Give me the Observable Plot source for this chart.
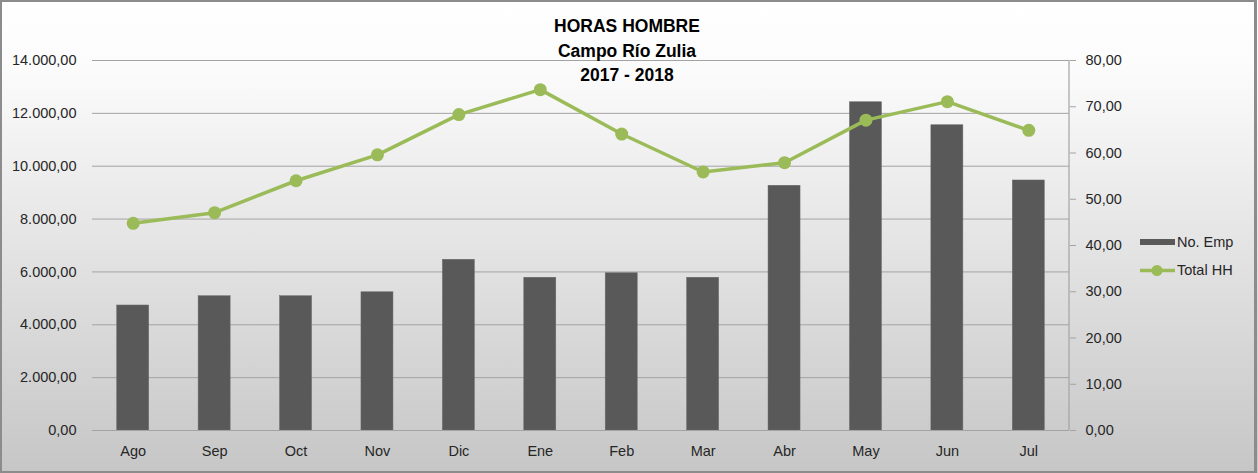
<!DOCTYPE html>
<html>
<head>
<meta charset="utf-8">
<script src="https://cdn.jsdelivr.net/npm/d3@7"></script>
<script src="https://cdn.jsdelivr.net/npm/@observablehq/plot@0.6"></script>
<style>
  html, body { margin: 0; padding: 0; background: #fff; }
  #wrap { position: relative; width: 1258px; height: 473px; overflow: hidden; }
  #frame { position: absolute; left: 0; top: 0; width: 1252px; height: 469px; border: 2px solid #8c8c8c; border-right-width: 3px; pointer-events: none; }
  #title { position: absolute; top: 14px; left: 427px; width: 400px; text-align: center;
    font-family: "Liberation Sans", Arial, sans-serif; font-weight: bold; font-size: 17.5px; line-height: 24.5px; color: #000; }
</style>
</head>
<body>
<div id="wrap">
  <div id="chart"></div>
  <div id="title">HORAS HOMBRE<br>Campo Río Zulia<br>2017 - 2018</div>
  <div id="frame"></div>
</div>
<script>
const months = ["Ago","Sep","Oct","Nov","Dic","Ene","Feb","Mar","Abr","May","Jun","Jul"];
const noEmp = [4730, 5080, 5080, 5230, 6460, 5780, 5950, 5780, 9260, 12420, 11550, 9460];
const totalHH = [44.8, 47.1, 54.0, 59.6, 68.3, 73.7, 64.1, 55.9, 57.9, 67.1, 71.1, 64.9];
const leftTicks = [0, 2000, 4000, 6000, 8000, 10000, 12000, 14000];
const rightTicks = [0, 10, 20, 30, 40, 50, 60, 70, 80];
const seriesNames = ["No. Emp", "Total HH"];

const leftMax = 14000, rightMax = 80;
const k = leftMax / rightMax;

const data = months.map((m, i) => ({month: m, emp: noEmp[i], hh: totalHH[i]}));
const loc = d3.formatLocale({decimal: ",", thousands: ".", grouping: [3], currency: ["", ""]});
const fmt = loc.format(",.2f");

const barColor = "#595959";
const lineColor = "#9bbb59";
const gridColor = "#a3a3a3";

const plot = Plot.plot({
  width: 1258,
  height: 473,
  marginLeft: 92,
  marginRight: 189,
  marginTop: 60,
  marginBottom: 43,
  style: {
    fontFamily: "'Liberation Sans', Arial, sans-serif",
    fontSize: "14.5px",
    color: "#262626",
    background: "linear-gradient(to bottom, #ffffff 0%, #fbfbfb 15%, #e2e2e2 55%, #c6c6c6 100%)",
    overflow: "visible"
  },
  x: {domain: months, paddingInner: 0.607, paddingOuter: 0.3035, round: false, label: null},
  y: {domain: [0, leftMax], label: null},
  marks: [
    Plot.gridY(leftTicks, {stroke: gridColor, strokeOpacity: 1, strokeWidth: 1}),
    Plot.barY(data, {x: "month", y: "emp", fill: barColor, stroke: "#6a6a6a", strokeWidth: 0.5}),
    Plot.ruleY([0], {stroke: gridColor, strokeWidth: 1.2}),
    Plot.axisY(leftTicks, {anchor: "left", tickSize: 0, tickPadding: 16, tickFormat: fmt, label: null, fill: "#262626"}),
    Plot.axisY(rightTicks.map(v => v * k), {anchor: "right", tickSize: 6, tickPadding: 10, tickFormat: d => fmt(d / k), label: null, stroke: gridColor, fill: "#262626"}),
    Plot.axisX({tickSize: 0, tickPadding: 15, label: null, fill: "#262626"}),
    Plot.line(data, {x: "month", y: d => d.hh * k, stroke: lineColor, strokeWidth: 3.5}),
    Plot.dot(data, {x: "month", y: d => d.hh * k, r: 6.5, fill: lineColor, stroke: "none"})
  ]
});
document.getElementById("chart").appendChild(plot);

// right axis line and legend
const svg = d3.select(plot);
const xs = plot.scale("x"), ys = plot.scale("y");
const rightX = xs.range[1];
svg.append("line")
  .attr("x1", rightX).attr("x2", rightX)
  .attr("y1", ys.apply(leftMax)).attr("y2", ys.apply(0))
  .attr("stroke", gridColor).attr("stroke-width", 1.2);

const lg = svg.append("g").attr("font-family", "'Liberation Sans', Arial, sans-serif").attr("font-size", "14.5px").attr("fill", "#262626").attr("text-anchor", "start");
lg.append("rect").attr("x", 1140).attr("y", 239).attr("width", 35).attr("height", 6).attr("fill", barColor);
lg.append("text").attr("x", 1177).attr("y", 242).attr("dy", "0.36em").text(seriesNames[0]);
lg.append("line").attr("x1", 1140).attr("x2", 1175).attr("y1", 270.5).attr("y2", 270.5).attr("stroke", lineColor).attr("stroke-width", 3.5);
lg.append("circle").attr("cx", 1157).attr("cy", 270.5).attr("r", 5.5).attr("fill", lineColor);
lg.append("text").attr("x", 1177).attr("y", 270).attr("dy", "0.36em").text(seriesNames[1]);
</script>
</body>
</html>
